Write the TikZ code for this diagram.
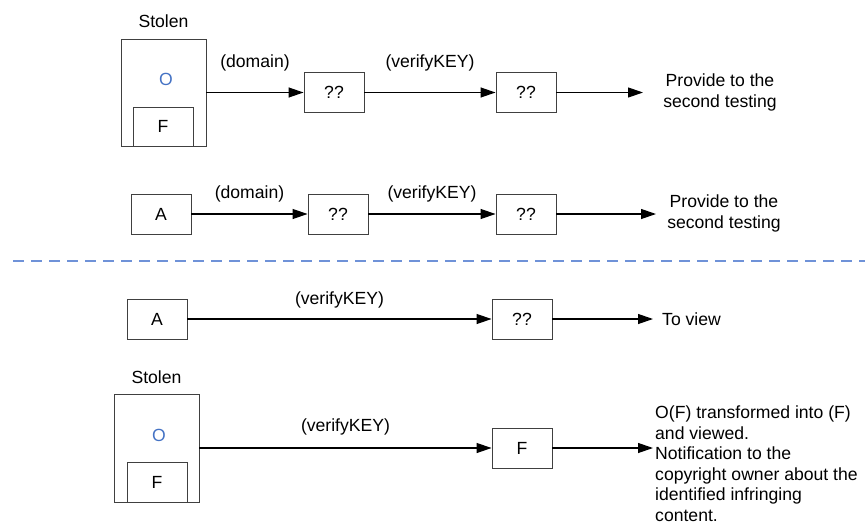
\documentclass[tikz,border=0pt]{standalone}
\usepackage{fontspec}
\setmainfont{Liberation Sans}
\usepackage{xcolor}
\usetikzlibrary{arrows.meta,positioning}
\definecolor{oblue}{HTML}{4472C4}
\definecolor{sepblue}{HTML}{6F92D8}

\begin{document}
\begin{tikzpicture}[x=1pt, y=-1pt, >={Triangle[length=15pt,width=10pt]},
  every node/.style={font=\fontsize{17.6}{20.5}\selectfont},
  box/.style={draw=black!75, line width=0.9pt, minimum width=60pt, minimum height=40pt, inner sep=0pt},
  bigbox/.style={draw=black!75, line width=0.9pt, minimum width=85pt, minimum height=107pt, inner sep=0pt},
  flow/.style={->, line width=1.2pt},
  lbl/.style={midway, inner sep=0pt},
  txt/.style={inner sep=0pt}]
  \useasboundingbox (0,0) rectangle (865,525);

  % first row: stolen O(F)
  \node[bigbox] (o1) at (163.5,92.5) {};
  \node (stolen1) at (163.5,21) {Stolen};
  \node[text=oblue] (ol1) at (166,79) {O};
  \node[box, minimum height=39pt] (f1) at (163,126.5) {F};
  \node[box] (q11) at (334,92.5) {??};
  \node[box] (q12) at (526,92.5) {??};
  \coordinate (e1) at (643,92.5);
  \node[txt, align=center] (prov1) at (720,92.5) {Provide to the\\second testing};
  \draw[flow] (o1) -- node[lbl, above=21pt] {(domain)} (q11);
  \draw[flow] (q11) -- node[lbl, above=21pt] {(verifyKEY)} (q12);
  \draw[flow] (q12) -- (e1);

  % second row: A
  \node[box] (a2) at (161,214) {A};
  \node[box] (q21) at (338,214) {??};
  \node[box] (q22) at (526,214) {??};
  \coordinate (e2) at (656,214);
  \node[txt, align=center] (prov2) at (724,213.5) {Provide to the\\second testing};
  \draw[flow] (a2) -- node[lbl, above=11pt] {(domain)} (q21);
  \draw[flow] (q21) -- node[lbl, above=11pt] {(verifyKEY)} (q22);
  \draw[flow] (q22) -- (e2);

  % separator
  \draw[sepblue, line width=1.6pt, dash pattern=on 11pt off 7pt] (13,261) -- (865,261);

  % third row: A, view only
  \node[box] (a3) at (157,319) {A};
  \node[box] (q31) at (522,319) {??};
  \coordinate (e3) at (653,319);
  \node[txt, anchor=west] (view) at (662,319) {To view};
  \draw[flow] (a3) -- node[lbl, above=10pt] {(verifyKEY)} (q31);
  \draw[flow] (q31) -- (e3);

  % fourth row: stolen O(F)
  \node[bigbox, minimum height=108pt] (o4) at (156.5,448) {};
  \node (stolen4) at (156.5,377) {Stolen};
  \node[text=oblue] (ol4) at (159,435) {O};
  \node[box] (f4) at (157,482) {F};
  \node[box] (q41) at (522,448) {F};
  \coordinate (e4) at (653,448);
  \node[txt, anchor=west, align=left] (note) at (655,463.5)
    {O(F) transformed into (F)\\and viewed.\\Notification to the\\copyright owner about the\\identified infringing\\content.};
  \draw[flow] (o4) -- node[lbl, above=12pt] {(verifyKEY)} (q41);
  \draw[flow] (q41) -- (e4);
\end{tikzpicture}
\end{document}
